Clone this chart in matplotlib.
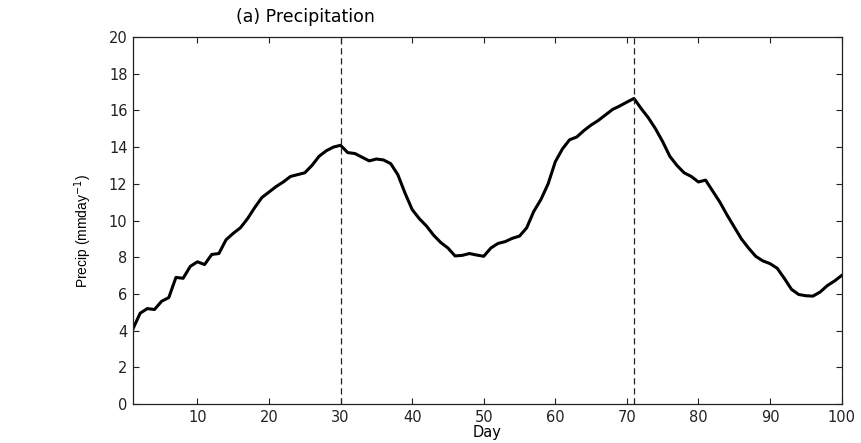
import matplotlib
matplotlib.use('Agg')
import matplotlib.pyplot as plt
import numpy as np

# wide sans face, closest to the stretched look of the original
plt.rcParams['font.family'] = ['DejaVu Sans']

# daily precipitation, days 1..100
day = np.arange(1, 101)
precip = [4.1, 4.95, 5.2, 5.15, 5.6, 5.8, 6.9, 6.85, 7.5, 7.75,
          7.6, 8.15, 8.2, 8.95, 9.3, 9.6, 10.1, 10.7, 11.25, 11.55,
          11.85, 12.1, 12.4, 12.5, 12.6, 13.0, 13.5, 13.8, 14.0, 14.1,
          13.7, 13.65, 13.45, 13.25, 13.35, 13.3, 13.1, 12.5, 11.5, 10.6,
          10.1, 9.7, 9.2, 8.8, 8.5, 8.07, 8.1, 8.2, 8.12, 8.05,
          8.5, 8.75, 8.85, 9.03, 9.15, 9.6, 10.5, 11.15, 12.0, 13.2,
          13.9, 14.4, 14.55, 14.9, 15.2, 15.45, 15.75, 16.05, 16.24, 16.45,
          16.65, 16.1, 15.6, 15.0, 14.3, 13.5, 13.0, 12.6, 12.4, 12.1,
          12.2, 11.6, 11.0, 10.3, 9.65, 9.0, 8.5, 8.05, 7.8, 7.65,
          7.4, 6.85, 6.25, 5.97, 5.9, 5.88, 6.1, 6.45, 6.7, 7.0]
peak_days = [30, 71]

fig = plt.figure(figsize=(8.62, 4.43), dpi=100)
ax = fig.add_axes([0.1543, 0.088, 0.822, 0.8285])

ax.plot(day, precip, color='black', lw=2.2)
for d in peak_days:
    ax.axvline(d, color='#222222', lw=0.9, linestyle=(0, (5, 3)))

ax.set_xlim(1, 100)
ax.set_ylim(0, 20)
ax.set_xticks(np.arange(10, 101, 10))
ax.set_yticks(np.arange(0, 21, 2))
ax.tick_params(direction='in', top=True, right=True, length=4, width=0.8,
               labelsize=10.5, colors='#222222', pad=4)
for s in ax.spines.values():
    s.set_linewidth(0.9)
    s.set_color('#222222')

ax.set_xlabel('Day', fontsize=10.5, labelpad=0)
ax.set_ylabel('Precip (mmday$^{-1}$)', fontsize=10, family='Liberation Sans')
ax.yaxis.set_label_coords(-0.055, 0.47)
fig.text(0.354, 0.962, '(a) Precipitation', fontsize=12.5, ha='center', va='center')

plt.savefig('out.png', dpi=100)
